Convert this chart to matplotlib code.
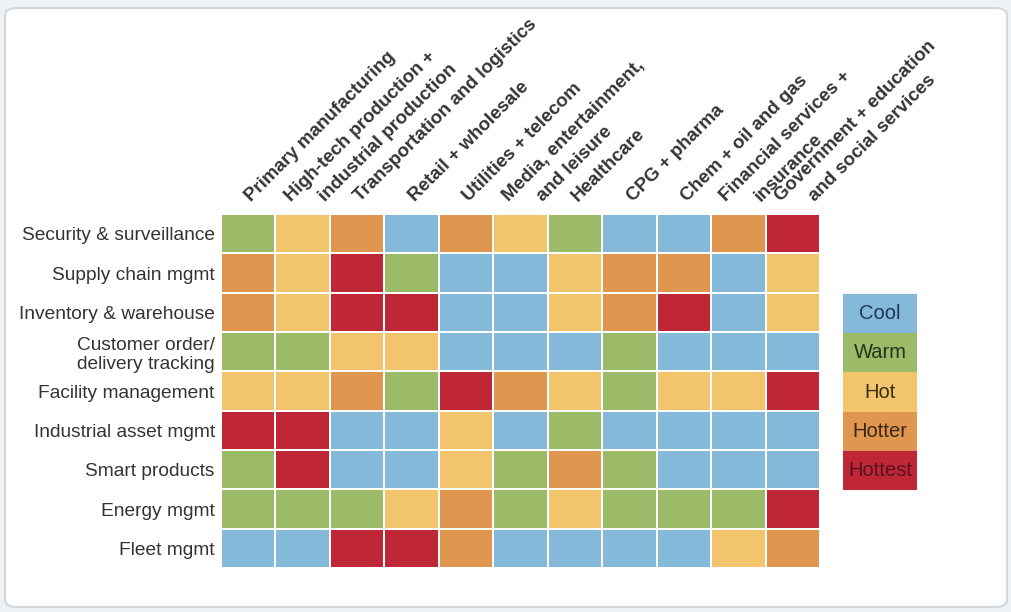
import numpy as np
import matplotlib
matplotlib.use('Agg')
from matplotlib import pyplot as plt
from matplotlib.colors import ListedColormap, BoundaryNorm
from matplotlib.patches import FancyBboxPatch

plt.rcParams['font.family'] = ['Liberation Sans', 'DejaVu Sans']

# Industries (columns) and use cases (rows).
industries = [
    'Primary manufacturing',
    'High-tech production +\nindustrial production',
    'Transportation and logistics',
    'Retail + wholesale',
    'Utilities + telecom',
    'Media, entertainment,\nand leisure',
    'Healthcare',
    'CPG + pharma',
    'Chem + oil and gas',
    'Financial services +\ninsurance',
    'Government + education\nand social services',
]
use_cases = [
    'Security & surveillance',
    'Supply chain mgmt',
    'Inventory & warehouse',
    'Customer order/\ndelivery tracking',
    'Facility management',
    'Industrial asset mgmt',
    'Smart products',
    'Energy mgmt',
    'Fleet mgmt',
]
levels = ['Cool', 'Warm', 'Hot', 'Hotter', 'Hottest']

# 0 = Cool ... 4 = Hottest
heat = [
    [1, 2, 3, 0, 3, 2, 1, 0, 0, 3, 4],
    [3, 2, 4, 1, 0, 0, 2, 3, 3, 0, 2],
    [3, 2, 4, 4, 0, 0, 2, 3, 4, 0, 2],
    [1, 1, 2, 2, 0, 0, 0, 1, 0, 0, 0],
    [2, 2, 3, 1, 4, 3, 2, 1, 2, 2, 4],
    [4, 4, 0, 0, 2, 0, 1, 0, 0, 0, 0],
    [1, 4, 0, 0, 2, 1, 3, 1, 0, 0, 0],
    [1, 1, 1, 2, 3, 1, 2, 1, 1, 1, 4],
    [0, 0, 4, 4, 3, 0, 0, 0, 0, 2, 3],
]

cell_colors = ['#85b9d9', '#9bbb69', '#f2c56c', '#e0964f', '#bf2636']
text_colors = ['#1e3650', '#22351a', '#3a2e18', '#3a2615', '#561420']

cmap = ListedColormap(cell_colors)
norm = BoundaryNorm(np.arange(-0.5, 5.5, 1), cmap.N)

W, H = 1012, 612
fig = plt.figure(figsize=(W / 100, H / 100), dpi=100, facecolor='#eef2f5')

# white rounded card with thin grey border
card = FancyBboxPatch((5 / W, 5 / H), 1002 / W, 599 / H,
                      boxstyle='round,pad=0,rounding_size=0.012',
                      transform=fig.transFigure, facecolor='white',
                      edgecolor='#d3d8dc', linewidth=1.6, zorder=-1)
fig.patches.append(card)

ax = fig.add_axes([221 / W, 1 - 568 / H, 599 / W, 354 / H])
ax.patch.set_alpha(0)
data = np.array(heat)
ax.pcolormesh(data, cmap=cmap, norm=norm, edgecolors='white', linewidth=1.2)
ax.set_xlim(0, len(industries))
ax.set_ylim(len(use_cases), 0)
ax.set_xticks([])
ax.set_yticks(np.arange(len(use_cases)) + 0.5)
ax.set_yticklabels(use_cases, fontsize=13.8, color='#333333', linespacing=1.15)
ax.tick_params(axis='y', length=0, pad=4.5)
for s in ax.spines.values():
    s.set_visible(False)

# column headers: each line sits on the same height, shifted sideways
for j, name in enumerate(industries):
    lines = name.split('\n')
    offsets = [0.06] if len(lines) == 1 else [-0.22, 0.41]
    for line, dx in zip(lines, offsets):
        ax.text(j + 0.5 + dx, -0.3, line, rotation=45,
                rotation_mode='anchor', ha='left', va='baseline',
                fontsize=13.5, fontweight='bold', color='#353535',
                clip_on=False)

# legend as a stack of coloured cells
lax = fig.add_axes([843 / W, 1 - 490 / H, 74 / W, 196 / H])
lax.pcolormesh(np.arange(5).reshape(-1, 1), cmap=cmap, norm=norm)
lax.set_xlim(0, 1)
lax.set_ylim(5, 0)
lax.axis('off')
for i, lab in enumerate(levels):
    lax.text(0.5, i + 0.5, lab, ha='center', va='center', fontsize=14.5,
             color=text_colors[i])

plt.savefig('out.png', dpi=100, facecolor=fig.get_facecolor())
